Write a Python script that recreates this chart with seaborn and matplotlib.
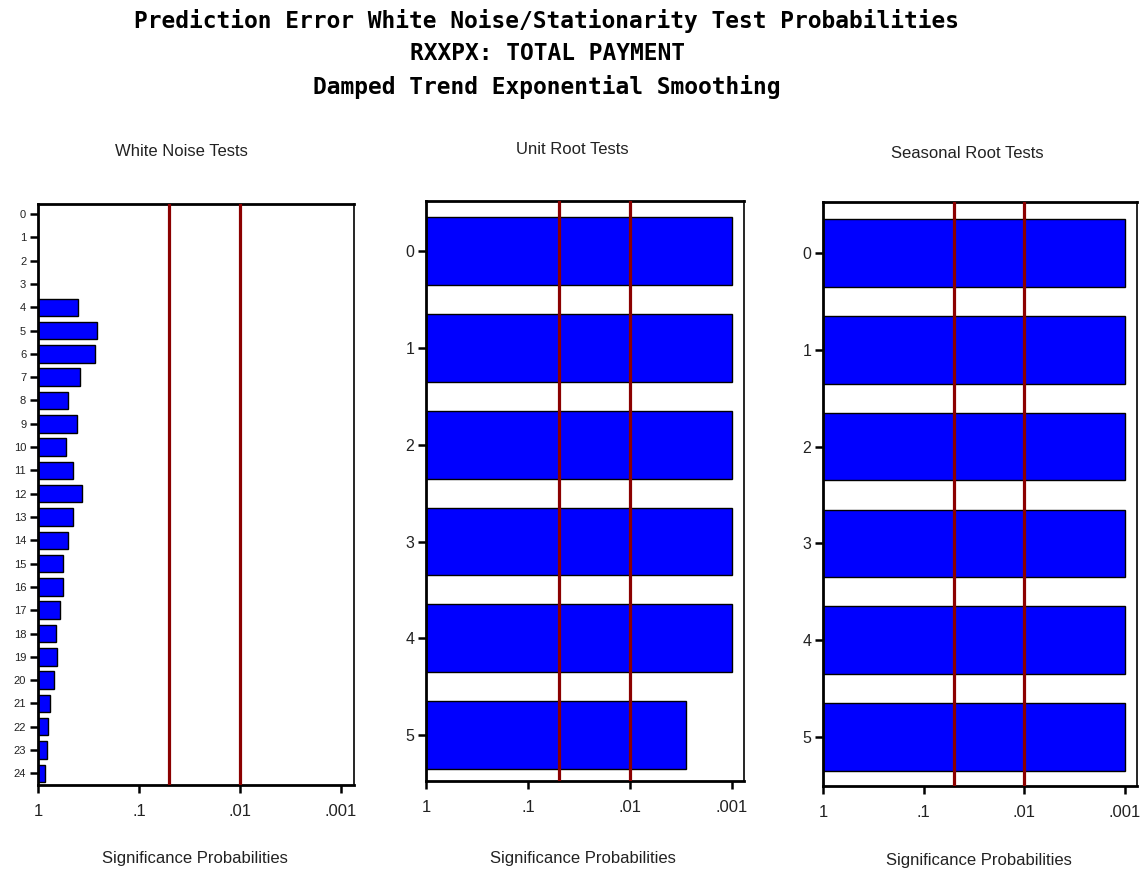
import numpy as np
import matplotlib
matplotlib.use("Agg")
import matplotlib.pyplot as plt
import seaborn as sns

# ---- data ----
wn_lags = [str(i) for i in range(25)]
wn_probs = [np.nan, np.nan, np.nan, np.nan, 0.40, 0.26, 0.27, 0.38, 0.51, 0.41,
            0.53, 0.45, 0.37, 0.45, 0.51, 0.57, 0.57, 0.60, 0.67, 0.65,
            0.70, 0.76, 0.79, 0.82, 0.86]
ur_lags = ["0", "1", "2", "3", "4", "5"]
ur_probs = [0.001, 0.001, 0.001, 0.001, 0.001, 0.0028]
sr_lags = ["0", "1", "2", "3", "4", "5"]
sr_probs = [0.001, 0.001, 0.001, 0.001, 0.001, 0.001]
x_tick_vals = [1, 0.1, 0.01, 0.001]
x_tick_labels = ["1", ".1", ".01", ".001"]
ref_levels = [0.05, 0.01]
panel_titles = ["White Noise Tests", "Unit Root Tests", "Seasonal Root Tests"]
x_label = "Significance Probabilities"
title_lines = ["Prediction Error White Noise/Stationarity Test Probabilities",
               "RXXPX: TOTAL PAYMENT",
               "Damped Trend Exponential Smoothing"]

sns.set_theme(style="white")
plt.rcParams['font.family'] = ['Liberation Sans', 'DejaVu Sans']

W, H = 1142, 873
fig = plt.figure(figsize=(W / 100, H / 100), dpi=100)
fig.patch.set_facecolor("white")

def px_axes(x0, y0, x1, y1):
    return fig.add_axes([x0 / W, 1 - y1 / H, (x1 - x0) / W, (y1 - y0) / H])

panels = [
    dict(box=(38, 204, 354, 785), cats=wn_lags, probs=wn_probs, width=0.75,
         ylim=(24.5, -0.43), xmax=3.13, yfs=8, tcx=181, tcy=152, xlx=195, xly=859),
    dict(box=(426, 201, 744, 781), cats=ur_lags, probs=ur_probs, width=0.7,
         ylim=(5.475, -0.52), xmax=3.12, yfs=11.5, tcx=572, tcy=150, xlx=583, xly=858),
    dict(box=(823, 202, 1137, 786), cats=sr_lags, probs=sr_probs, width=0.7,
         ylim=(5.506, -0.527), xmax=3.12, yfs=11.5, tcx=967, tcy=153, xlx=979, xly=860),
]

txt_col = "#222222"
for i, p in enumerate(panels):
    ax = px_axes(*p["box"])
    vals = -np.log10(np.array(p["probs"], dtype=float))
    sns.barplot(x=vals, y=p["cats"], order=p["cats"], orient="h", ax=ax,
                color="#0000FF", saturation=1, edgecolor="black", linewidth=1.0,
                width=p["width"], errorbar=None)
    for lvl in ref_levels:
        ax.axvline(-np.log10(lvl), color="#8B0000", lw=2.3, zorder=3)
    ax.set_xlim(0, p["xmax"])
    ax.set_ylim(*p["ylim"])
    ax.set_xticks([-np.log10(v) for v in x_tick_vals])
    ax.set_xticklabels(x_tick_labels)
    ax.set_xlabel("")
    ax.set_ylabel("")
    ax.set_facecolor("white")
    ax.tick_params(axis="x", which="both", bottom=True, direction="out", length=5.5,
                   width=1.8, color="black", labelsize=12, labelcolor=txt_col, pad=8)
    ax.tick_params(axis="y", which="both", left=True, direction="out", length=5.5,
                   width=1.8, color="black", labelsize=p["yfs"], labelcolor=txt_col, pad=3)
    for side in ["left", "bottom", "top"]:
        ax.spines[side].set_visible(True)
        ax.spines[side].set_color("black")
        ax.spines[side].set_linewidth(2.0)
    ax.spines["right"].set_visible(True)
    ax.spines["right"].set_color("black")
    ax.spines["right"].set_linewidth(1.2)
    ax.grid(False)
    fig.text(p["tcx"] / W, 1 - p["tcy"] / H, panel_titles[i], ha="center", va="center",
             fontsize=12, color=txt_col)
    fig.text(p["xlx"] / W, 1 - p["xly"] / H, x_label, ha="center", va="center",
             fontsize=12, color=txt_col)

for line, yy in zip(title_lines, [21, 54, 87]):
    fig.text(0.5 * (127 + 967) / W, 1 - yy / H, line, ha="center", va="center",
             fontsize=16.5, fontweight="bold", family="DejaVu Sans Mono", color="black")

fig.savefig("out.png", dpi=100, facecolor="white")
